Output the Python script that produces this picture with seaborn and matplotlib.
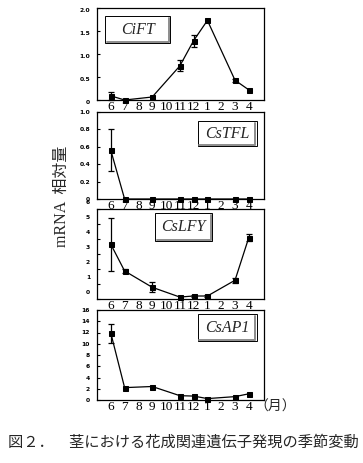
import matplotlib
matplotlib.use("Agg")
import matplotlib.pyplot as plt
import matplotlib.transforms as mtransforms
from matplotlib.patches import Rectangle
from matplotlib.lines import Line2D
import seaborn as sns
import pandas as pd
import numpy as np

# ---------------- data ----------------
months = ['6', '7', '8', '9', '10', '11', '12', '1', '2', '3', '4']

cift = [0.09, 0.0, None, 0.065, None, 0.74, 1.29, 1.73, None, 0.43, 0.22]
cift_err = [0.08, 0.0, None, 0.0, None, 0.12, 0.13, 0.0, None, 0.03, 0.0]

cstfl = [0.56, 0.0, None, 0.0, None, 0.0, 0.0, 0.0, None, 0.0, 0.0]
cstfl_err = [0.24, 0.0, None, 0.0, None, 0.0, 0.0, 0.0, None, 0.0, 0.0]

cslfy = [3.65, 1.87, None, 0.78, None, 0.13, 0.2, 0.2, None, 1.25, 4.1]
cslfy_err = [1.75, 0.12, None, 0.33, None, 0.0, 0.05, 0.05, None, 0.15, 0.25]

csap1 = [11.9, 2.2, None, 2.4, None, 0.77, 0.7, 0.25, None, 0.6, 1.1]
csap1_err = [1.7, 0.0, None, 0.0, None, 0.0, 0.0, 0.0, None, 0.0, 0.0]

gene_names = ['CiFT', 'CsTFL', 'CsLFY', 'CsAP1']
ylims = [(0, 2.0), (0, 1.0), (0, 6), (0, 16)]
yticks = [[0, 0.5, 1.0, 1.5, 2.0], [0, 0.2, 0.4, 0.6, 0.8, 1.0],
          [0, 1, 2, 3, 4, 5, 6], [0, 2, 4, 6, 8, 10, 12, 14, 16]]
ytick_labels = [['0', '0.5', '1.0', '1.5', '2.0'],
                ['0', '0.2', '0.4', '0.6', '0.8', '1.0'],
                ['0', '1', '2', '3', '4', '5', '6'],
                ['0', '2', '4', '6', '8', '10', '12', '14', '16']]

ylabel_text = 'mRNA  相対量'
month_unit = '（月）'
caption = '図２．　茎における花成関連遺伝子発現の季節変動'

# ---------------- layout ----------------
W, H = 363, 463
sns.set_theme(style='white')
plt.rcParams['font.family'] = ['DejaVu Sans']

fig = plt.figure(figsize=(W / 100, H / 100), dpi=100)
fig.patch.set_facecolor('white')


def fx(px):
    return px / W


def fy(py):
    return 1 - py / H


panels = [(8, 100), (112, 199), (209, 299), (310, 400)]
left_px, right_px = 97, 264
boxes = [(105, 16, 170, 43), (198, 121, 257, 146), (155, 213, 212, 241), (198, 314, 257, 341)]
label_shift = [-2, 0, 7, 0]

series = [(cift, cift_err), (cstfl, cstfl_err), (cslfy, cslfy_err), (csap1, csap1_err)]

for i, ((top, bot), (vals, errs)) in enumerate(zip(panels, series)):
    ax = fig.add_axes([fx(left_px), fy(bot), fx(right_px - left_px), (bot - top) / H])
    df = pd.DataFrame({'pos': np.arange(len(months)), 'month': months,
                       'value': vals, 'err': errs}).dropna()
    sns.lineplot(data=df, x='pos', y='value', ax=ax, color='black', lw=0.9,
                 marker='s', markersize=3.6, markeredgecolor='black',
                 markerfacecolor='black', clip_on=False, zorder=3)
    eb = df[df['err'] > 0]
    ax.errorbar(eb['pos'], eb['value'], yerr=eb['err'], fmt='none',
                ecolor='black', elinewidth=0.9, capsize=2.5, capthick=0.9,
                clip_on=False, zorder=3)
    ax.set_xlim(-1.0, 11.1)
    ax.set_ylim(*ylims[i])
    ax.set_xticks(np.arange(len(months)))
    ax.set_xticklabels(months, fontsize=9.5, family='Liberation Serif')
    ax.set_yticks(yticks[i])
    ax.set_yticklabels(ytick_labels[i], fontsize=4.3, fontweight='bold')
    ax.tick_params(axis='x', length=0, pad=1, colors='black')
    ax.tick_params(axis='y', direction='in', length=2, width=0.8, pad=5,
                   colors='black', left=True)
    ax.set_xlabel('')
    ax.set_ylabel('')
    for s in ax.spines.values():
        s.set_color('black')
        s.set_linewidth(0.9)
    if label_shift[i]:
        off = mtransforms.ScaledTranslation(0, label_shift[i] / 100, fig.dpi_scale_trans)
        for lab in ax.get_yticklabels():
            lab.set_transform(lab.get_transform() + off)

    # gene name box
    x0, y0, x1, y1 = boxes[i]
    fig.add_artist(Rectangle((fx(x0), fy(y1)), fx(x1 - x0), (y1 - y0) / H,
                             facecolor='white', edgecolor='black', lw=0.7,
                             transform=fig.transFigure, zorder=5))
    fig.add_artist(Line2D([fx(x0 + 1.5), fx(x1 - 1.5), fx(x1 - 1.5)],
                          [fy(y1 - 1.5), fy(y1 - 1.5), fy(y0 + 1.5)],
                          color='#8c8c8c', lw=1.4, transform=fig.transFigure, zorder=6))
    fig.text(fx((x0 + x1) / 2), fy((y0 + y1) / 2), gene_names[i], fontsize=11.5,
             family='Liberation Serif', style='italic', ha='center', va='center',
             zorder=7)

fig.text(fx(62), fy(196), ylabel_text, rotation=90, ha='center', va='center',
         fontsize=11.5, family=['Liberation Serif', 'Noto Sans CJK JP'])
fig.text(fx(275), fy(407), month_unit, ha='center', va='center', fontsize=10,
         family=['Noto Sans CJK JP'])
fig.text(fx(8), fy(442), caption, ha='left', va='center', fontsize=11,
         family=['Noto Sans CJK JP', 'DejaVu Sans'])

fig.savefig('out.png', dpi=100, facecolor='white')
